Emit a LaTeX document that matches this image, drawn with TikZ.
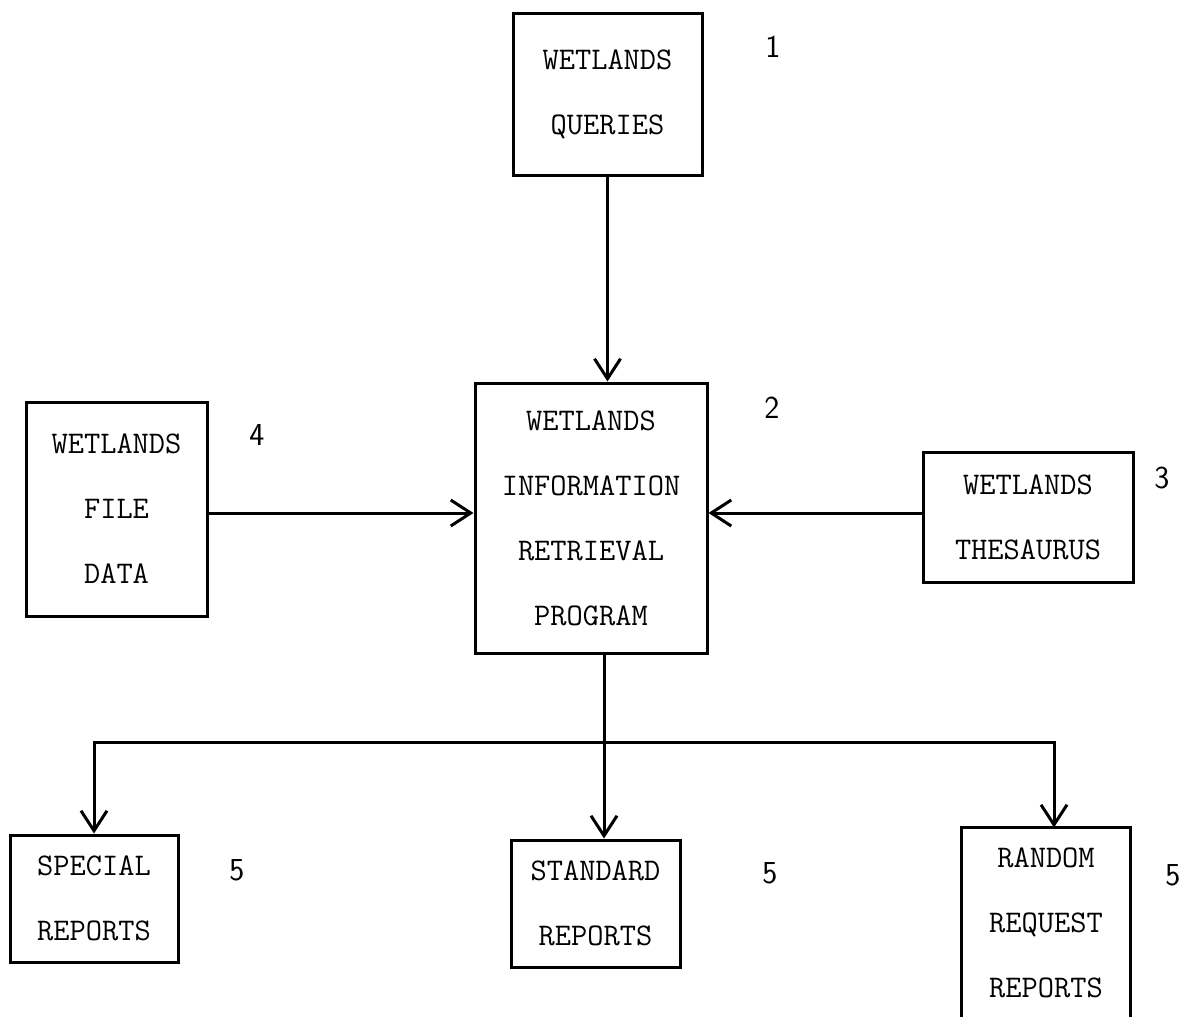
\documentclass[tikz,border=0pt]{standalone}
\usepackage{fontspec}
\usetikzlibrary{arrows.meta}

\tikzset{
	box/.style={draw, line width=3pt, inner sep=0pt, align=center,
		font=\ttfamily\addfontfeatures{FakeBold=1.5}\fontsize{31.5}{65}\selectfont},
	tag/.style={font=\sffamily\fontsize{32}{34}\selectfont},
	flow/.style={line width=3pt, -{Straight Barb[length=20pt,width=26pt]}}
}

\begin{document}
\begin{tikzpicture}[x=1pt,y=-1pt]
	\useasboundingbox (0,0) rectangle (1186,1017);

	\node[box, minimum width=189, minimum height=162] (queries) at (607.5,94) {WETLANDS\\QUERIES};
	\node[box, minimum width=232, minimum height=270] (central) at (591,518) {WETLANDS\\INFORMATION\\RETRIEVAL\\PROGRAM};
	\node[box, minimum width=181, minimum height=214] (file) at (116.5,509) {WETLANDS\\FILE\\DATA};
	\node[box, minimum width=210, minimum height=130] (thesaurus) at (1028,517) {WETLANDS\\THESAURUS};
	\node[box, minimum width=168, minimum height=127] (special) at (94,898.5) {SPECIAL\\REPORTS};
	\node[box, minimum width=169, minimum height=127] (standard) at (595.5,903.5) {STANDARD\\REPORTS};
	\node[box, draw=none, minimum width=166, minimum height=188] (random) at (1046,923) {RANDOM\\REQUEST\\REPORTS};
	\draw[line width=3pt] (random.south west) -- (random.north west) -- (random.north east) -- (random.south east);

	\node[tag] (n1) at (773,47) {1};
	\node[tag] (n2) at (772,408) {2};
	\node[tag] (n3) at (1162,478) {3};
	\node[tag] (n4) at (257,435) {4};
	\node[tag] (n5a) at (237,870) {5};
	\node[tag] (n5b) at (770,873) {5};
	\node[tag] (n5c) at (1173,875) {5};

	\coordinate (level) at (0,513);
	\coordinate (trunk) at (604,742);

	\draw[flow] (queries.south) -- (queries.south |- central.north);
	\draw[flow] (file.east |- level) -- (central.west |- level);
	\draw[flow] (thesaurus.west |- level) -- (central.east |- level);
	\draw[line width=3pt] (central.south -| trunk) -- (trunk);
	\draw[flow] (trunk) -- (trunk |- standard.north);
	\draw[flow] (trunk) -| (special.north);
	\draw[flow] (trunk) -| ([xshift=8pt]random.north);
\end{tikzpicture}
\end{document}
